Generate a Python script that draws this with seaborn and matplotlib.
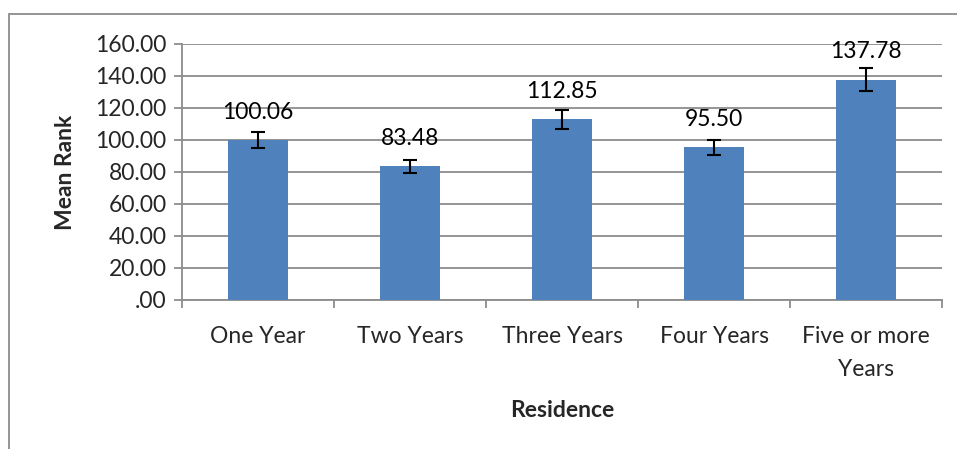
import matplotlib
matplotlib.use("Agg")
import matplotlib.pyplot as plt
import seaborn as sns
import pandas as pd
import numpy as np
from matplotlib.patches import Rectangle

categories = ["One Year", "Two Years", "Three Years", "Four Years", "Five or more\nYears"]
mean_rank = [100.06, 83.48, 112.85, 95.50, 137.78]
errors = [5.0, 4.2, 5.7, 4.7, 7.0]
value_labels = ["100.06", "83.48", "112.85", "95.50", "137.78"]
y_ticks = [0, 20, 40, 60, 80, 100, 120, 140, 160]
y_tick_labels = [".00", "20.00", "40.00", "60.00", "80.00", "100.00", "120.00", "140.00", "160.00"]

sns.set_theme(style="white")
plt.rcParams["font.family"] = ["Lato", "DejaVu Sans"]
FS = 16.5

df = pd.DataFrame({"Residence": categories, "Mean Rank": mean_rank})

W, H = 957, 449
fig = plt.figure(figsize=(W / 100, H / 100), dpi=100)
ax = fig.add_axes([182 / W, (H - 300) / H, 760 / W, 256 / H])

sns.barplot(data=df, x="Residence", y="Mean Rank", color="#4f81bd", width=0.4,
            errorbar=None, ax=ax, saturation=1, zorder=3, linewidth=0)
ax.errorbar(range(len(categories)), mean_rank, yerr=errors, fmt="none",
            ecolor="black", elinewidth=1.5, capsize=5, capthick=1.5, zorder=4)

for i, (v, lab) in enumerate(zip(mean_rank, value_labels)):
    ax.annotate(lab, (i, v), xytext=(0, 20), textcoords="offset points",
                ha="center", va="center", fontsize=FS, color="black")

ax.set_xlim(-0.5, len(categories) - 0.5)
ax.set_ylim(0, 160)
ax.set_yticks(y_ticks)
ax.set_yticklabels(y_tick_labels, fontsize=FS)
ax.yaxis.grid(True, color="#8c8c8c", linewidth=1.3, zorder=0)
ax.set_axisbelow(True)

ax.set_xticks(range(len(categories)))
ax.set_xticklabels(categories, fontsize=FS, linespacing=1.7, va="top")
ax.set_xticks(np.arange(-0.5, len(categories), 1.0), minor=True)
ax.tick_params(axis="x", which="major", length=0, pad=19)
ax.tick_params(axis="x", which="minor", length=6, width=1.3, color="#8c8c8c", direction="out", bottom=True)
ax.tick_params(axis="y", length=6, width=1.3, color="#8c8c8c", direction="out", left=True, pad=5)

for s in ["top", "right"]:
    ax.spines[s].set_visible(False)
for s in ["left", "bottom"]:
    ax.spines[s].set_color("#8c8c8c")
    ax.spines[s].set_linewidth(1.3)

ax.set_xlabel("Residence", fontsize=FS, fontweight="bold", labelpad=14)
ax.set_ylabel("Mean Rank", fontsize=FS, fontweight="bold", labelpad=14)

fig.patches.append(Rectangle((9 / W, -0.1), 1.2, (H - 14) / H + 0.1, transform=fig.transFigure,
                             fill=False, edgecolor="#8c8c8c", linewidth=1.3, zorder=0))

fig.savefig("out.png", dpi=100, facecolor="white")
